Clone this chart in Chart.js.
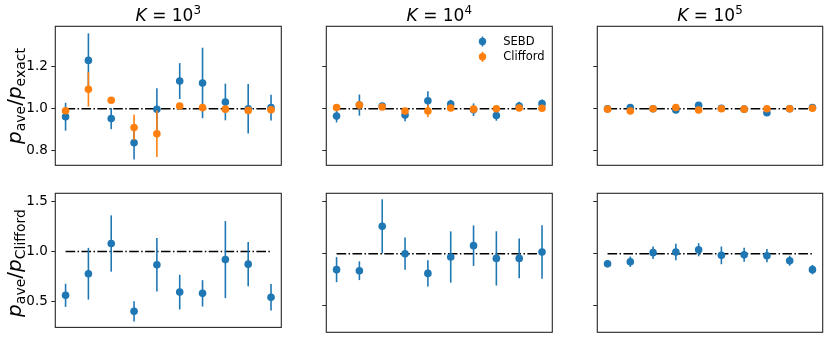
<!DOCTYPE html>
<html>
<head>
<meta charset="utf-8">
<script src="https://cdn.jsdelivr.net/npm/chart.js@4/dist/chart.umd.min.js"></script>
<style>
  html, body { margin: 0; padding: 0; background: #fff; }
  #wrap { position: relative; width: 830px; height: 339px; overflow: hidden; font-family: "DejaVu Sans", sans-serif; }
  canvas { position: absolute; left: 0; top: 0; }
  .ttl { position: absolute; text-align: center; font-size: 17px; line-height: 20px; color: #000; white-space: nowrap; }
  .ylab { position: absolute; font-size: 20px; line-height: 24px; color: #000; white-space: nowrap; transform: translate(-50%, -50%) rotate(-90deg); }
  .ylab sub { font-size: 70%; vertical-align: -0.3em; }
  .ttl sup { font-size: 70%; vertical-align: 0.55em; line-height: 0; }
</style>
</head>
<body>
<div id="wrap"></div>
<script>
// ---------- data ----------
const xPos = [0, 1, 2, 3, 4, 5, 6, 7, 8, 9];
const titles = ["3", "4", "5"];                 // K = 10^n
const topTicks = [0.8, 1.0, 1.2];
const bottomTicks = [0.5, 1.0, 1.5];
const seriesNames = ["SEBD", "Clifford"];

// top row: p_ave / p_exact
const sebdK3 = [0.962, 1.229, 0.953, 0.839, 0.997, 1.131, 1.122, 1.032, 1.000, 1.005];
const sebdK3Err = [0.066, 0.128, 0.050, 0.080, 0.100, 0.085, 0.167, 0.087, 0.117, 0.061];
const cliffK3 = [0.990, 1.092, 1.040, 0.911, 0.881, 1.013, 1.005, 0.998, 0.992, 0.995];
const cliffK3Err = [0.010, 0.082, 0.010, 0.060, 0.110, 0.010, 0.010, 0.010, 0.010, 0.010];

const sebdK4 = [0.965, 1.017, 1.013, 0.970, 1.038, 1.022, 0.995, 0.968, 1.013, 1.024];
const sebdK4Err = [0.030, 0.050, 0.015, 0.030, 0.045, 0.020, 0.030, 0.025, 0.020, 0.020];
const cliffK4 = [1.006, 1.017, 1.008, 0.989, 0.989, 1.003, 0.998, 1.000, 1.003, 1.002];
const cliffK4Err = [0.005, 0.020, 0.005, 0.015, 0.030, 0.005, 0.005, 0.005, 0.005, 0.005];

const sebdK5 = [1.000, 1.006, 1.000, 0.994, 1.016, 1.002, 0.998, 0.981, 1.000, 1.006];
const sebdK5Err = [0.006, 0.006, 0.006, 0.006, 0.006, 0.006, 0.006, 0.006, 0.006, 0.006];
const cliffK5 = [0.998, 0.989, 1.000, 1.006, 0.994, 1.000, 0.998, 1.000, 1.000, 1.002];
const cliffK5Err = [0.004, 0.004, 0.004, 0.004, 0.004, 0.004, 0.004, 0.004, 0.004, 0.004];

// bottom row: p_ave / p_Clifford
const ratioK3 = [0.565, 0.780, 1.080, 0.406, 0.869, 0.597, 0.585, 0.920, 0.875, 0.546];
const ratioK3Err = [0.115, 0.257, 0.280, 0.100, 0.267, 0.172, 0.131, 0.383, 0.220, 0.131];
const ratioK4 = [0.847, 0.837, 1.262, 1.000, 0.811, 0.968, 1.077, 0.955, 0.955, 1.016];
const ratioK4Err = [0.120, 0.090, 0.260, 0.155, 0.126, 0.246, 0.194, 0.260, 0.190, 0.257];
const ratioK5 = [0.904, 0.923, 1.010, 1.016, 1.038, 0.984, 0.990, 0.981, 0.933, 0.847];
const ratioK5Err = [0.035, 0.050, 0.060, 0.080, 0.063, 0.085, 0.068, 0.064, 0.048, 0.045];

const refLine = [1.0, 1.0];
const refX = [0, 9];

// ---------- styling / layout ----------
const W = 830, H = 339;
const BLUE = '#1f77b4', ORANGE = '#ff7f0e';
const colsX = [[55.3, 281.3], [326.3, 552.3], [597.3, 822.7]];
const rowsY = [[26.3, 165.3], [193.3, 332.3]];
const yRanges = [[0.7318, 1.3905], [0.2464, 1.579]];
const AXW = 40;

const errPlugin = {
  id: 'errbars',
  beforeDatasetDraw(chart, args) {
    const ds = chart.data.datasets[args.index];
    if (!ds.err) return;
    const ctx = chart.ctx, xs = chart.scales.x, ys = chart.scales.y;
    ctx.save();
    ctx.strokeStyle = ds.backgroundColor;
    ctx.lineWidth = 1.6;
    ds.data.forEach((p, i) => {
      const e = ds.err[i];
      const px = xs.getPixelForValue(p.x);
      ctx.beginPath();
      ctx.moveTo(px, ys.getPixelForValue(p.y - e));
      ctx.lineTo(px, ys.getPixelForValue(p.y + e));
      ctx.stroke();
    });
    ctx.restore();
  }
};

const framePlugin = {
  id: 'frame',
  afterDraw(chart) {
    const a = chart.chartArea, ctx = chart.ctx;
    ctx.save();
    ctx.strokeStyle = '#262626';
    ctx.lineWidth = 1.1;
    ctx.strokeRect(a.left, a.top, a.right - a.left, a.bottom - a.top);
    ctx.restore();
  }
};

const legendPlugin = {
  id: 'errlegend',
  afterDraw(chart, args, opts) {
    if (!opts.show) return;
    const ctx = chart.ctx;
    const items = [[seriesNames[0], BLUE, 41.5], [seriesNames[1], ORANGE, 56.8]];
    ctx.save();
    items.forEach(([name, col, y]) => {
      ctx.strokeStyle = col; ctx.fillStyle = col; ctx.lineWidth = 1.6;
      ctx.beginPath(); ctx.moveTo(482.5, y - 5); ctx.lineTo(482.5, y + 5); ctx.stroke();
      ctx.beginPath(); ctx.arc(482.5, y, 3.7, 0, Math.PI * 2); ctx.fill();
      ctx.fillStyle = '#000';
      ctx.font = '11.5px "DejaVu Sans"';
      ctx.textBaseline = 'middle';
      ctx.fillText(name, 503.3, y + 0.5);
    });
    ctx.restore();
  }
};

function pts(vals) { return vals.map((v, i) => ({ x: xPos[i], y: v })); }

function makeChart(col, row, series, showLabels, ticks, showLegend) {
  const cv = document.createElement('canvas');
  cv.width = W; cv.height = H;
  cv.style.width = W + 'px'; cv.style.height = H + 'px';
  document.getElementById('wrap').appendChild(cv);
  const [L, R] = colsX[col], [T, B] = rowsY[row];
  const datasets = [{
    type: 'line',
    data: refX.map((x, i) => ({ x: x, y: refLine[i] })),
    borderColor: '#000', borderWidth: 1.5,
    borderDash: [9.6, 2.4, 1.5, 2.4],
    pointRadius: 0, fill: false, order: 10
  }];
  series.forEach((s, k) => {
    datasets.push({
      type: 'scatter',
      label: s.name,
      data: pts(s.vals), err: s.err,
      backgroundColor: s.color, borderColor: s.color,
      pointRadius: 3.8, pointBorderWidth: 0, pointHoverRadius: 3.8,
      order: 5 - k
    });
  });
  return new Chart(cv, {
    type: 'scatter',
    data: { datasets },
    plugins: [errPlugin, framePlugin, legendPlugin],
    options: {
      responsive: false, animation: false, devicePixelRatio: 1,
      layout: { padding: { left: L - AXW, top: T, right: W - R, bottom: H - B } },
      plugins: { legend: { display: false }, tooltip: { enabled: false }, errlegend: { show: showLegend } },
      scales: {
        x: { type: 'linear', min: -0.45, max: 9.45, display: false },
        y: {
          type: 'linear', min: yRanges[row][0], max: yRanges[row][1],
          afterFit: (sc) => { sc.width = AXW; },
          afterBuildTicks: (sc) => { sc.ticks = ticks.map(v => ({ value: v })); },
          grid: { drawOnChartArea: false, drawTicks: true, tickLength: 4, color: '#262626', lineWidth: 1 },
          border: { display: false },
          ticks: {
            display: showLabels, padding: 3.5, color: '#000',
            font: { family: 'DejaVu Sans', size: 13.5 },
            callback: (v) => v.toFixed(1)
          }
        }
      }
    }
  });
}

makeChart(0, 0, [{ name: 'SEBD', vals: sebdK3, err: sebdK3Err, color: BLUE }, { name: 'Clifford', vals: cliffK3, err: cliffK3Err, color: ORANGE }], true, topTicks, false);
makeChart(1, 0, [{ name: 'SEBD', vals: sebdK4, err: sebdK4Err, color: BLUE }, { name: 'Clifford', vals: cliffK4, err: cliffK4Err, color: ORANGE }], false, topTicks, true);
makeChart(2, 0, [{ name: 'SEBD', vals: sebdK5, err: sebdK5Err, color: BLUE }, { name: 'Clifford', vals: cliffK5, err: cliffK5Err, color: ORANGE }], false, topTicks, false);
makeChart(0, 1, [{ name: 'SEBD', vals: ratioK3, err: ratioK3Err, color: BLUE }], true, bottomTicks, false);
makeChart(1, 1, [{ name: 'SEBD', vals: ratioK4, err: ratioK4Err, color: BLUE }], false, bottomTicks, false);
makeChart(2, 1, [{ name: 'SEBD', vals: ratioK5, err: ratioK5Err, color: BLUE }], false, bottomTicks, false);

// titles and axis labels (HTML text)
const wrap = document.getElementById('wrap');
titles.forEach((n, i) => {
  const d = document.createElement('div');
  d.className = 'ttl';
  d.style.left = colsX[i][0] + 'px';
  d.style.width = (colsX[i][1] - colsX[i][0]) + 'px';
  d.style.top = '4.5px';
  d.innerHTML = '<i>K</i> = 10<sup>' + n + '</sup>';
  wrap.appendChild(d);
});
const ylabels = [['ave', 'exact'], ['ave', 'Clifford']];
ylabels.forEach((lab, r) => {
  const d = document.createElement('div');
  d.className = 'ylab';
  d.style.left = '17px';
  d.style.top = ((rowsY[r][0] + rowsY[r][1]) / 2) + 'px';
  d.innerHTML = '<i>p</i><sub>' + lab[0] + '</sub>/<i>p</i><sub>' + lab[1] + '</sub>';
  wrap.appendChild(d);
});
</script>
</body>
</html>
